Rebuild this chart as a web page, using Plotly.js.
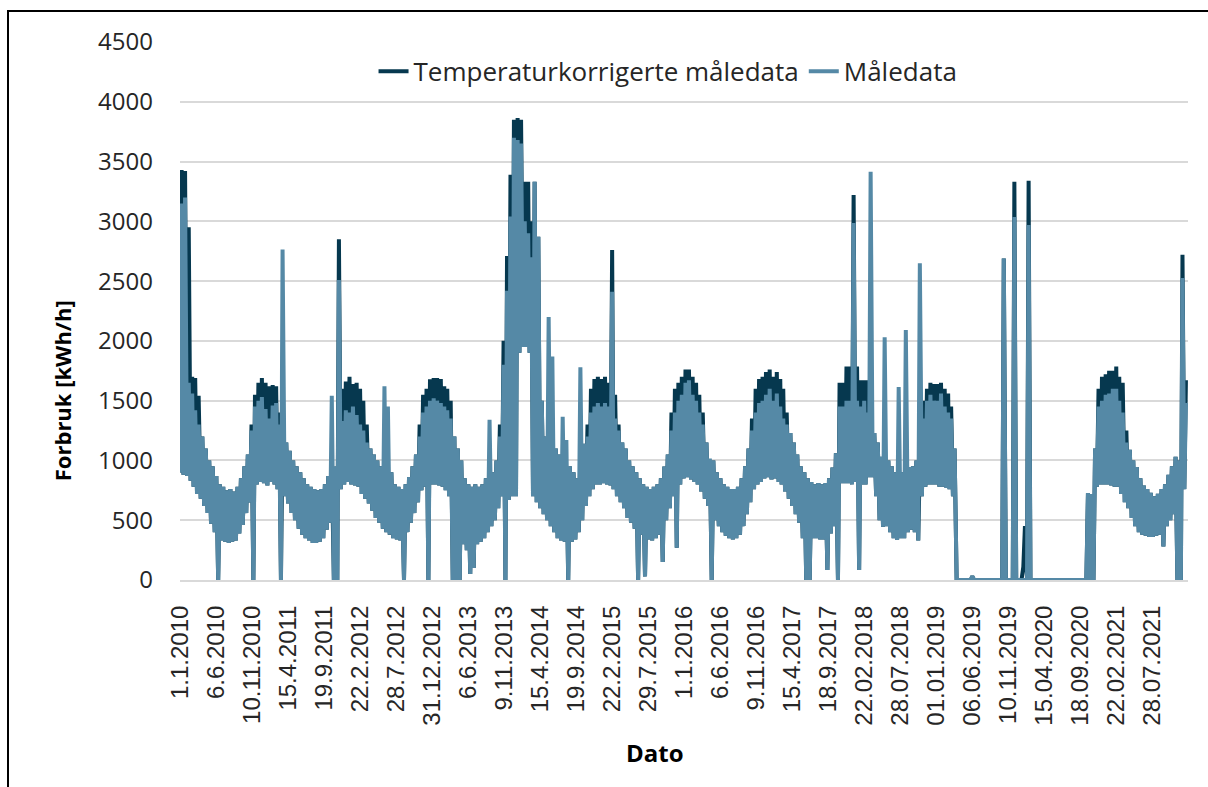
<!DOCTYPE html>
<html>
<head>
<meta charset="utf-8">
<script src="https://cdn.plot.ly/plotly-3.0.1.min.js"></script>
<style>
  html, body { margin: 0; padding: 0; background: #fff; }
  #chart { width: 1208px; height: 787px; }
  #frame { position: absolute; left: 7px; top: 10px; width: 1220px; height: 800px;
           border: 2px solid #000; pointer-events: none; }
</style>
</head>
<body>
<div id="chart"></div>
<div id="frame"></div>
<script>
// Half-monthly envelopes (1st and 16th of each month), one row per year 2010-2021.
const years = [2010, 2011, 2012, 2013, 2014, 2015, 2016, 2017, 2018, 2019, 2020, 2021];

// Måledata: lower and upper values of each half month [kWh/h]
const maaleLo = [
  900, 880, 870, 830, 780, 720, 680, 620, 560, 470, 400, 0, 330, 320, 310, 320, 330, 390, 460, 560, 650, 0, 800, 820,
  810, 790, 820, 800, 760, 0, 700, 640, 560, 500, 430, 380, 350, 330, 310, 310, 320, 350, 420, 480, 0, 0, 760, 800,
  820, 800, 790, 780, 720, 680, 640, 580, 520, 480, 430, 400, 380, 350, 340, 330, 0, 400, 480, 560, 650, 750, 780, 0,
  800, 800, 790, 780, 750, 700, 0, 0, 0, 300, 250, 50, 100, 300, 320, 350, 400, 450, 500, 600, 700, 0, 670, 700,
  700, 1900, 1950, 1950, 1900, 700, 650, 600, 550, 500, 450, 400, 350, 330, 320, 0, 320, 340, 400, 500, 620, 700, 760, 800,
  800, 810, 800, 790, 760, 700, 650, 600, 520, 480, 430, 0, 380, 30, 340, 330, 350, 380, 150, 500, 600, 700, 270, 800,
  850, 860, 840, 820, 800, 740, 680, 620, 0, 500, 450, 400, 370, 350, 340, 350, 380, 450, 550, 650, 760, 800, 820, 850,
  860, 840, 850, 820, 800, 740, 680, 620, 550, 480, 350, 0, 0, 350, 350, 340, 340, 84, 390, 450, 0, 810, 810, 810,
  800, 820, 84, 800, 800, 860, 860, 700, 500, 445, 450, 400, 350, 335, 350, 350, 400, 420, 400, 330, 700, 780, 800, 800,
  800, 780, 780, 770, 760, 700, 0, 0, 0, 0, 0, 0, 0, 0, 0, 0, 0, 0, 0, 0, 0, 0, 0, 0,
  0, 0, 0, 0, 0, 0, 0, 0, 0, 0, 0, 0, 0, 0, 0, 0, 0, 0, 0, 0, 0, 0, 780, 800,
  800, 800, 790, 780, 780, 720, 650, 600, 520, 450, 400, 380, 370, 360, 360, 370, 380, 280, 450, 500, 550, 0, 0, 760
];
const maaleHi = [
  3150, 3200, 1650, 1560, 1420, 1300, 1200, 1100, 1000, 950, 870, 800, 780, 750, 760, 740, 780, 850, 950, 1050, 1250, 1450, 1500, 1530,
  1430, 1350, 1460, 1480, 1300, 2765, 1150, 1080, 1000, 950, 900, 850, 800, 780, 760, 750, 760, 800, 870, 1540, 950, 2510, 1330, 1420,
  1400, 1450, 1380, 1300, 1250, 1150, 1100, 1050, 1000, 950, 1620, 1450, 900, 800, 780, 760, 800, 860, 950, 1050, 1200, 1400, 1450, 1500,
  1520, 1500, 1480, 1450, 1420, 1350, 1200, 1100, 1000, 850, 800, 780, 800, 780, 800, 850, 1340, 900, 1000, 1200, 1800, 2420, 3040, 3700,
  3680, 3650, 3000, 2900, 2700, 3330, 2870, 1500, 1200, 2200, 1870, 1100, 1050, 1365, 1170, 950, 900, 850, 1780, 1140, 1200, 1400, 1450, 1480,
  1450, 1480, 1450, 2410, 1350, 1250, 1150, 1100, 1000, 950, 900, 850, 800, 780, 760, 780, 800, 850, 950, 1050, 1250, 1400, 1500, 1550,
  1650, 1670, 1550, 1500, 1400, 1300, 1150, 1015, 1000, 900, 850, 800, 780, 760, 760, 780, 850, 950, 1100, 1250, 1400, 1480, 1500, 1550,
  1600, 1500, 1560, 1450, 1350, 1300, 1230, 1150, 1050, 950, 900, 850, 820, 800, 810, 800, 810, 850, 940, 1060, 1450, 1450, 1500, 1500,
  2985, 1500, 1450, 1500, 1400, 3415, 1230, 1150, 1030, 2030, 1000, 950, 900, 1615, 900, 2090, 945, 950, 1000, 2650, 1350, 1500, 1550, 1500,
  1500, 1560, 1450, 1400, 1350, 1100, 0, 0, 0, 0, 30, 0, 0, 0, 0, 0, 0, 0, 0, 2690, 0, 0, 3037, 0,
  0, 0, 2970, 0, 0, 0, 0, 0, 0, 0, 0, 0, 0, 0, 0, 0, 0, 0, 0, 727, 720, 1100, 1450, 1500,
  1550, 1560, 1600, 1600, 1500, 1400, 1150, 1090, 1000, 945, 850, 790, 760, 730, 700, 720, 760, 800, 880, 950, 1030, 1000, 2525, 1480
];

// Temperaturkorrigerte måledata: lower and upper values of each half month [kWh/h]
const korrLo = [
  900, 880, 870, 830, 780, 720, 680, 620, 560, 470, 400, 0, 330, 320, 310, 320, 330, 390, 460, 560, 650, 0, 800, 820,
  810, 790, 820, 800, 760, 0, 700, 640, 560, 500, 430, 380, 350, 330, 310, 310, 320, 350, 420, 480, 0, 0, 760, 800,
  820, 800, 790, 780, 720, 680, 640, 580, 520, 480, 430, 400, 380, 350, 340, 330, 0, 400, 480, 560, 650, 750, 780, 0,
  800, 800, 790, 780, 750, 700, 0, 0, 0, 300, 250, 50, 100, 300, 320, 350, 400, 450, 500, 600, 700, 0, 670, 700,
  700, 1900, 1950, 1950, 1900, 700, 650, 600, 550, 500, 450, 400, 350, 330, 320, 0, 320, 340, 400, 500, 620, 700, 760, 800,
  800, 810, 800, 790, 760, 700, 650, 600, 520, 480, 430, 0, 380, 30, 340, 330, 350, 380, 150, 500, 600, 700, 270, 800,
  850, 860, 840, 820, 800, 740, 680, 620, 0, 500, 450, 400, 370, 350, 340, 350, 380, 450, 550, 650, 760, 800, 820, 850,
  860, 840, 850, 820, 800, 740, 680, 620, 550, 480, 350, 0, 0, 350, 350, 340, 340, 84, 390, 450, 0, 810, 810, 810,
  800, 820, 84, 800, 800, 860, 860, 700, 500, 445, 450, 400, 350, 335, 350, 350, 400, 420, 400, 330, 700, 780, 800, 800,
  800, 780, 780, 770, 760, 700, 0, 0, 0, 0, 0, 0, 0, 0, 0, 0, 0, 0, 0, 0, 0, 0, 0, 0,
  0, 110, 0, 0, 0, 0, 0, 0, 0, 0, 0, 0, 0, 0, 0, 0, 0, 0, 0, 0, 0, 0, 780, 800,
  800, 800, 790, 780, 780, 720, 650, 600, 520, 450, 400, 380, 370, 360, 360, 370, 380, 280, 450, 500, 550, 0, 0, 760
];
const korrHi = [
  3430, 3420, 2950, 1700, 1690, 1540, 1200, 1100, 1000, 950, 870, 800, 780, 750, 760, 740, 780, 850, 950, 1050, 1300, 1550, 1650, 1690,
  1650, 1620, 1630, 1620, 1400, 1260, 1150, 1080, 1000, 950, 900, 850, 800, 780, 760, 750, 760, 800, 870, 950, 950, 2850, 1600, 1660,
  1700, 1640, 1650, 1600, 1500, 1300, 1100, 1050, 1000, 950, 950, 900, 900, 800, 780, 760, 800, 860, 950, 1050, 1300, 1550, 1600, 1680,
  1690, 1690, 1680, 1620, 1600, 1500, 1200, 1100, 1000, 850, 800, 780, 800, 780, 800, 850, 900, 900, 1000, 1300, 2000, 2710, 3390, 3850,
  3865, 3850, 3330, 3330, 3000, 3330, 2870, 1500, 1200, 1200, 1100, 1100, 1050, 1000, 950, 950, 900, 850, 900, 1140, 1300, 1600, 1680, 1700,
  1680, 1700, 1650, 2760, 1550, 1300, 1150, 1100, 1000, 950, 900, 850, 800, 780, 760, 780, 800, 850, 950, 1050, 1400, 1600, 1650, 1700,
  1760, 1760, 1700, 1650, 1550, 1400, 1150, 1000, 1000, 900, 850, 800, 780, 760, 760, 780, 850, 950, 1100, 1350, 1600, 1680, 1700, 1740,
  1760, 1700, 1740, 1680, 1600, 1400, 1230, 1150, 1050, 950, 900, 850, 820, 800, 810, 800, 810, 850, 940, 1060, 1650, 1650, 1785, 1785,
  3220, 1785, 1670, 1670, 1670, 1600, 1230, 1150, 1030, 1000, 1000, 950, 900, 900, 900, 945, 945, 950, 1000, 1000, 1500, 1600, 1650, 1640,
  1640, 1650, 1600, 1560, 1450, 1100, 0, 0, 0, 0, 30, 0, 0, 0, 0, 0, 0, 0, 0, 2690, 0, 0, 3330, 0,
  0, 450, 3340, 0, 0, 0, 0, 0, 0, 0, 0, 0, 0, 0, 0, 0, 0, 0, 0, 727, 720, 1100, 1600, 1700,
  1720, 1750, 1750, 1785, 1700, 1650, 1250, 1090, 1000, 945, 850, 790, 760, 730, 700, 720, 760, 800, 880, 950, 1030, 1000, 2720, 1670
];

// X-axis category labels
const tickLabels = [
  "1.1.2010", "6.6.2010", "10.11.2010", "15.4.2011", "19.9.2011", "22.2.2012", "28.7.2012",
  "31.12.2012", "6.6.2013", "9.11.2013", "15.4.2014", "19.9.2014", "22.2.2015", "29.7.2015",
  "1.1.2016", "6.6.2016", "9.11.2016", "15.4.2017", "18.9.2017", "22.02.2018", "28.07.2018",
  "01.01.2019", "06.06.2019", "10.11.2019", "15.04.2020", "18.09.2020", "22.02.2021", "28.07.2021"
];

const pad = n => String(n).padStart(2, "0");
const iso = (y, m, d) => `${y}-${pad(m)}-${pad(d)}`;

// Each half month is drawn as its low reading followed by its high reading
function buildSeries(lo, hi) {
  const x = [], y = [];
  let i = 0;
  years.forEach(yr => {
    for (let m = 1; m <= 12; m++) {
      [[1, 8], [16, 23]].forEach(([dLo, dHi]) => {
        x.push(iso(yr, m, dLo)); y.push(lo[i]);
        x.push(iso(yr, m, dHi)); y.push(hi[i]);
        i++;
      });
    }
  });
  return { x, y };
}

const tickVals = tickLabels.map(s => {
  const [d, m, y] = s.split(".").map(Number);
  return iso(y, m, d);
});

const korr = buildSeries(korrLo, korrHi);
const maale = buildSeries(maaleLo, maaleHi);

const traces = [
  { x: korr.x, y: korr.y, type: "scatter", mode: "lines",
    name: "Temperaturkorrigerte måledata",
    line: { color: "#06384F", width: 4 } },
  { x: maale.x, y: maale.y, type: "scatter", mode: "lines",
    name: "Måledata",
    line: { color: "#5589A6", width: 4 } }
];

const titleFont = { family: "Open Sans, sans-serif", color: "#000" };

const layout = {
  width: 1208, height: 787,
  margin: { l: 180, r: 20, t: 42, b: 207 },
  paper_bgcolor: "#fff", plot_bgcolor: "#fff",
  font: { family: "Open Sans, sans-serif", color: "#262626" },
  showlegend: true,
  legend: {
    orientation: "h", x: 0.192, y: 0.989, xanchor: "left", yanchor: "top",
    font: { family: "Open Sans, sans-serif", size: 26, color: "#262626" },
    bgcolor: "rgba(255,255,255,0)", itemwidth: 30, tracegroupgap: 0
  },
  xaxis: {
    type: "date",
    range: ["2010-01-01", "2022-01-01"],
    tickmode: "array", tickvals: tickVals, ticktext: tickLabels,
    tickangle: -90,
    tickfont: { family: "Liberation Sans, Arial, sans-serif", size: 24, color: "#262626" },
    ticks: "", ticklabelstandoff: 14,
    showgrid: false, zeroline: false,
    showline: true, linecolor: "#D9D9D9", linewidth: 2,
    title: { text: "" },
    automargin: false, fixedrange: true
  },
  yaxis: {
    range: [0, 4500], dtick: 500, tick0: 0,
    tickfont: { family: "Open Sans, sans-serif", size: 24, color: "#262626" },
    ticks: "", ticklabelstandoff: 26,
    showgrid: true, gridcolor: "#D9D9D9", gridwidth: 2,
    zeroline: false, showline: false,
    title: { text: "" },
    automargin: false, fixedrange: true
  },
  // Axis titles placed as in the Excel layout
  annotations: [
    { text: "<b>Forbruk [kWh/h]</b>", textangle: -90, showarrow: false,
      xref: "paper", yref: "paper", x: -0.117, y: 0.351, xanchor: "center", yanchor: "middle",
      font: Object.assign({ size: 22 }, titleFont) },
    { text: "<b>Dato</b>", showarrow: false,
      xref: "paper", yref: "paper", x: 0.471, y: -0.32, xanchor: "center", yanchor: "middle",
      font: Object.assign({ size: 24 }, titleFont) }
  ]
};

Plotly.newPlot("chart", traces, layout, { displayModeBar: false, staticPlot: true });
</script>
</body>
</html>
